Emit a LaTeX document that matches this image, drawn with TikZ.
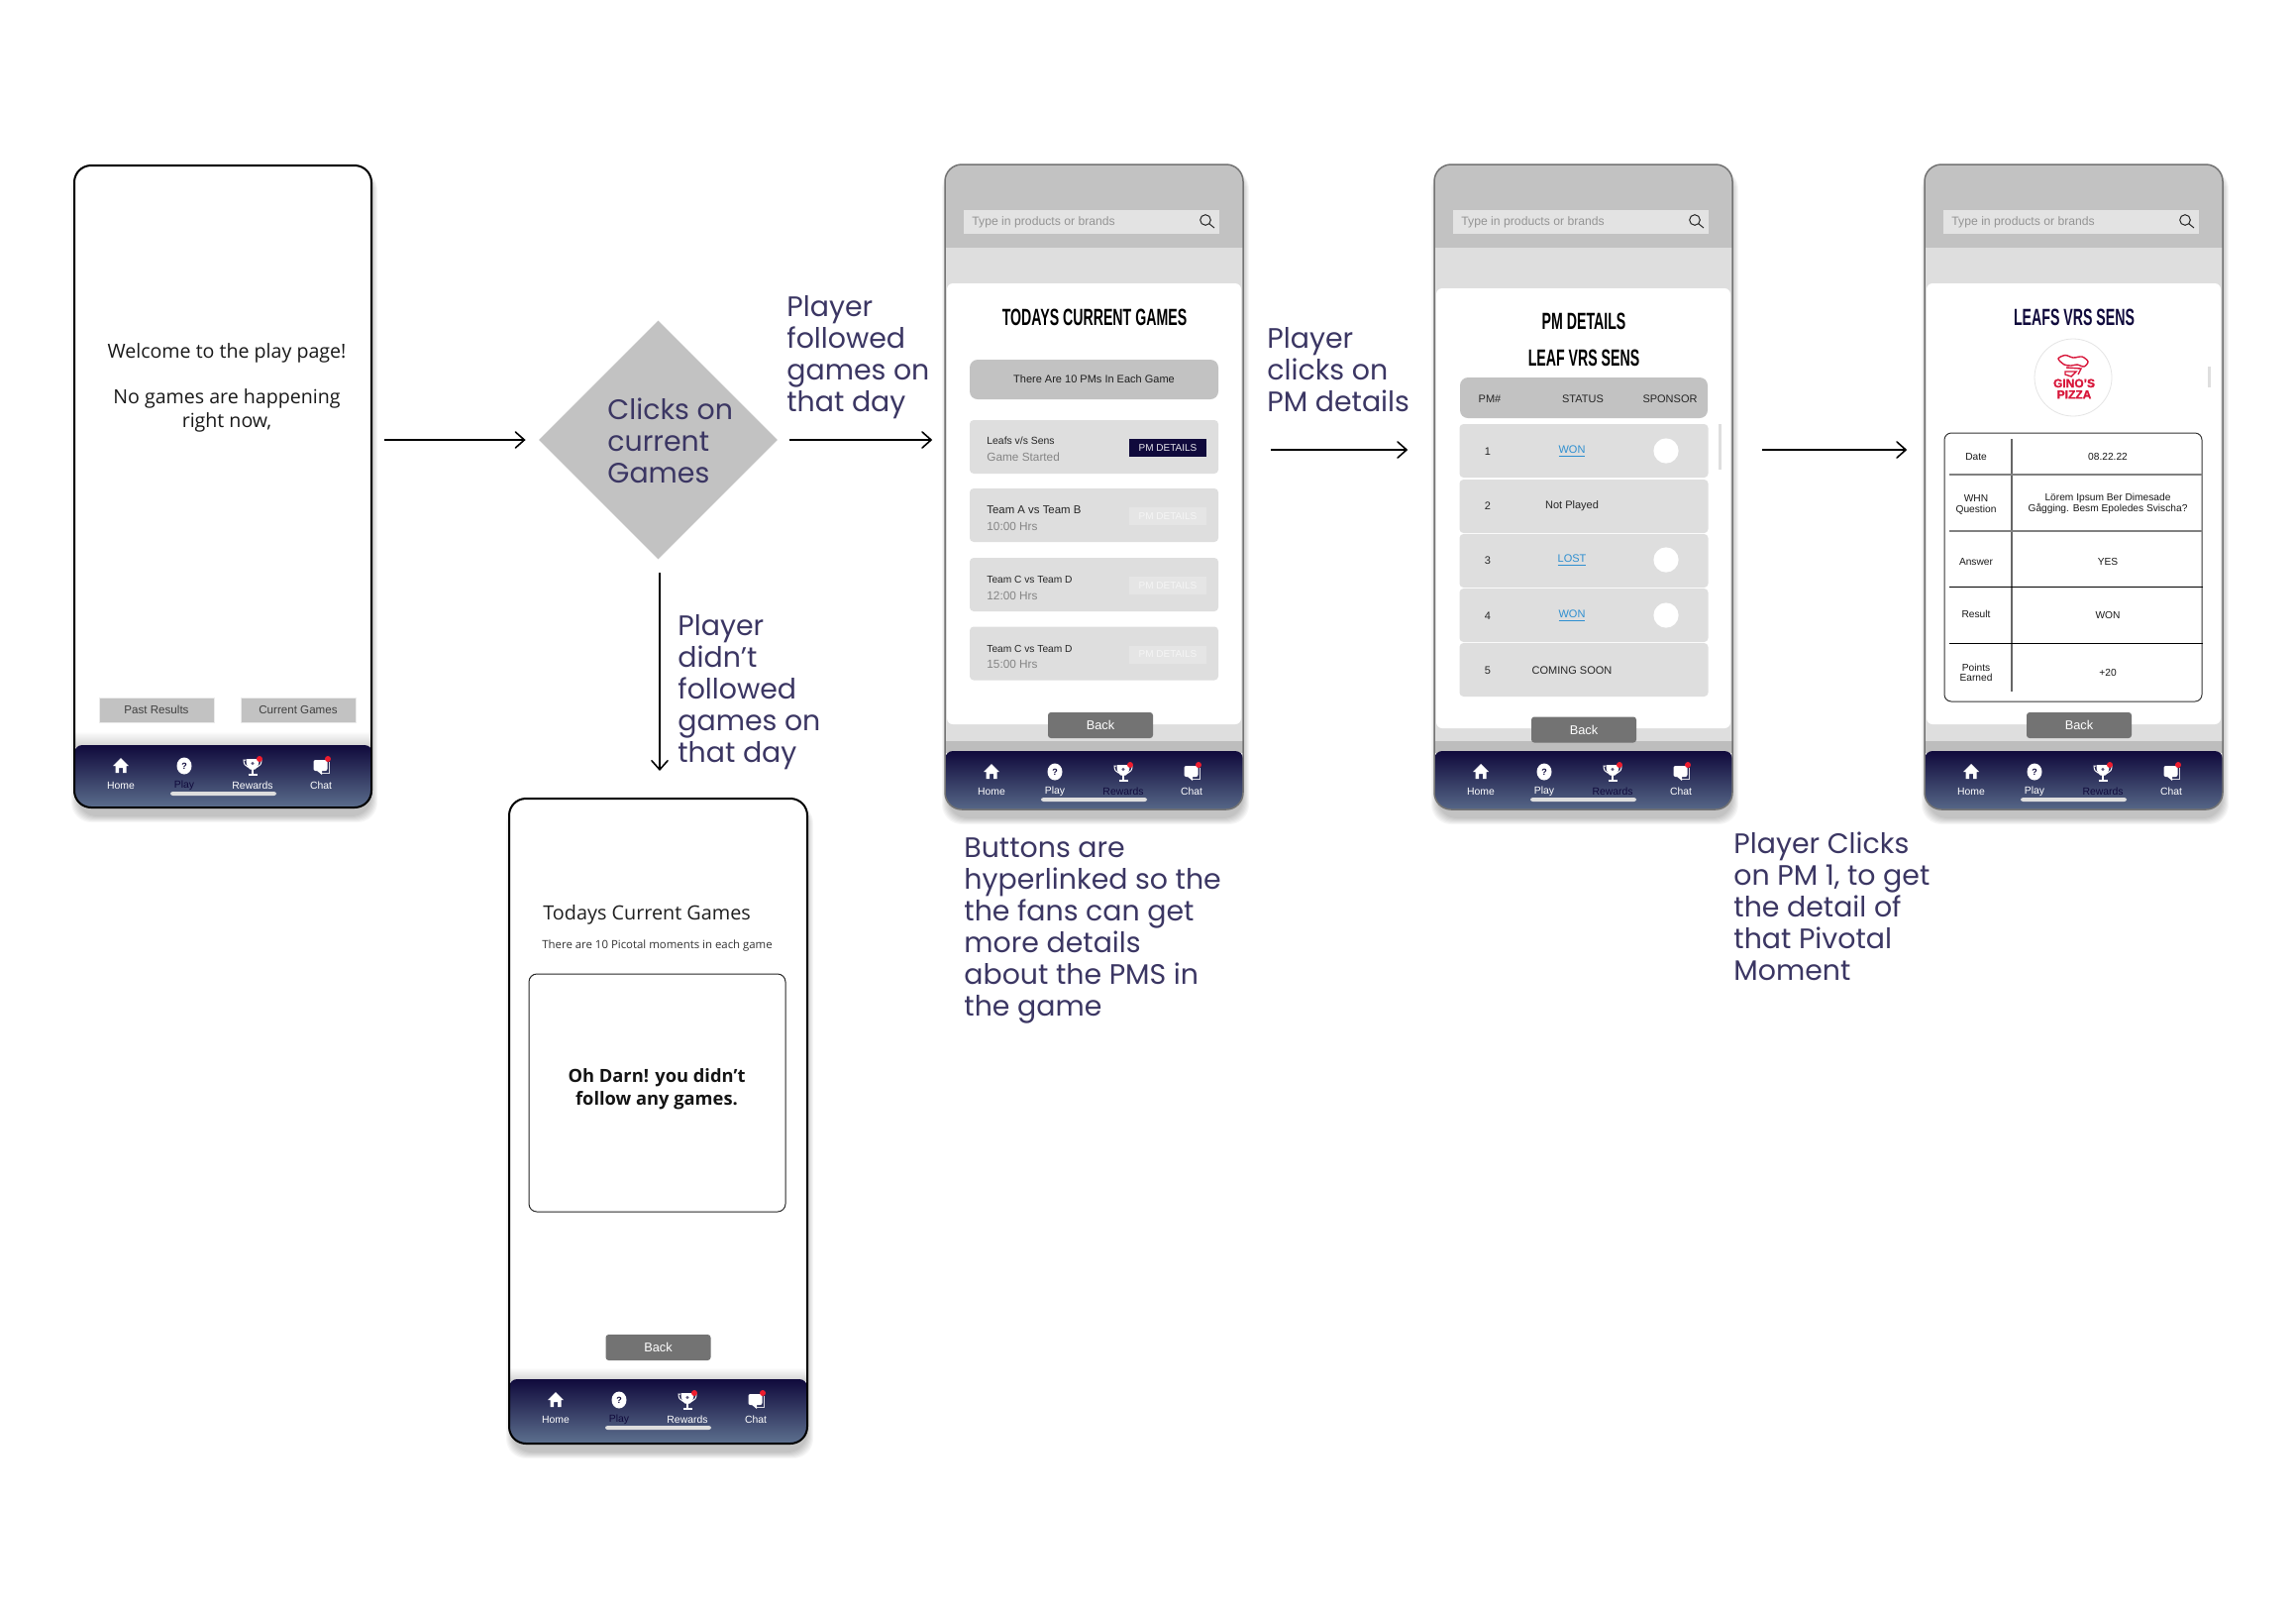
\documentclass[tikz,border=0pt]{standalone}
\usepackage{fontspec}
\setmainfont{Liberation Sans}
\newfontfamily\sayfont{Poppins}
\newfontfamily\interfont{Open Sans}
\newfontfamily\titlefont[FakeStretch=0.6]{Liberation Sans}
\newfontfamily\logofont[FakeBold=1.2]{Liberation Sans}
\usetikzlibrary{positioning,arrows.meta,shapes.geometric,calc}
\definecolor{say}{HTML}{3B3663}
\definecolor{navy}{HTML}{100A3C}
\definecolor{steel}{HTML}{6F88A2}
\definecolor{hdr}{HTML}{C2C2C2}
\definecolor{panel}{HTML}{DEDEDE}
\definecolor{band}{HTML}{BDBDBD}
\definecolor{backbtn}{HTML}{737373}
\definecolor{linkblue}{HTML}{2E8FD0}
\definecolor{alert}{HTML}{EE1C2E}
\definecolor{ginos}{HTML}{D8163A}

% shadow and white base of a phone: x, y, w, h
\newcommand{\phonebase}[4]{
  \foreach \s in {1,...,7}
    \fill[black, opacity=.035, rounded corners=10pt] ({#1+4-\s},{#2+5}) rectangle ({#1+#3-1+\s},{#2+#4+8+\s});
  \fill[white, rounded corners=8.5pt] (#1,#2) rectangle ({#1+#3},{#2+#4});
}

% bottom bar: name, x, bar top, height, Play colour, Rewards colour
\newcommand{\navbar}[6]{
  \begin{scope}[shift={(#2,#3)}]
    \begin{scope}
      \clip[rounded corners=8.5pt] (0,-20) rectangle (301,#4);
      \shade[top color=navy, bottom color=steel, rounded corners=4pt] (0,0) rectangle (301,80);
    \end{scope}
    % home
    \fill[white] (39,21) -- (47,13) -- (55,21) -- (52.5,21) -- (52.5,28) -- (49,28) -- (49,23) -- (45,23) -- (45,28) -- (41.5,28) -- (41.5,21) -- cycle;
    % play
    \fill[white] (111,21) ellipse (7.5 and 8.5);
    \node[navlbl, text=navy, font=\bfseries\fontsize{4.5}{5}\selectfont] (#1ask) at (111,21.5) {?};
    % rewards
    \fill[white] (173.5,14) -- (186.5,14) .. controls (186.5,22) and (184,25) .. (180,25) .. controls (176,25) and (173.5,22) .. (173.5,14) -- cycle;
    \draw[white, line width=.5pt] (173,15) -- (171,15) .. controls (171,19) and (172.5,21) .. (175,22);
    \draw[white, line width=.5pt] (187,15) -- (189,15) .. controls (189,19) and (187.5,21) .. (185,22);
    \draw[white, line width=.7pt] (180,25) -- (180,30) (175.5,30) -- (184.5,30);
    \fill[navy!70] (180,18.5) circle (1.6);
    \fill[alert] (187,14) circle (3);
    % chat
    \draw[white!85!navy, line width=.5pt] (257,17) -- (257,28) -- (250,28);
    \fill[white, rounded corners=1pt] (241.5,15) rectangle (255.5,26);
    \fill[white] (244,25) -- (250,25) -- (250,30) -- cycle;
    \fill[alert] (256,14) circle (3);
    % labels
    \node[navlbl] (#1home) at (47,40.5) {Home};
    \node[navlbl, text=#5] (#1play) at (111,40.5) {Play};
    \node[navlbl, text=#6] (#1rewards) at (180,40.5) {Rewards};
    \node[navlbl] (#1chat) at (249,40.5) {Chat};
    \fill[panel, rounded corners=1.2pt] (97,47) rectangle (204,51);
  \end{scope}
}

% grey screen behind the white card: name, x, card top, card bottom
\newcommand{\screenback}[4]{
  \begin{scope}[shift={(#2,0)}]
    \begin{scope}
      \clip[rounded corners=8.5pt] (0,166) rectangle (301,817);
      \fill[hdr] (0,166) rectangle (301,250);
      \fill[panel] (0,250) rectangle (301,748);
      \fill[band] (0,748) rectangle (301,760);
    \end{scope}
    \fill[white, rounded corners=3pt] (2,#3) rectangle (299,#4);
    \node[searchbox] (#1search) at (148,224) {};
    \node[hint, anchor=west] (#1hint) at (27,224) {Type in products or brands};
    \draw[black!85, line width=.5pt] (263,222) circle (5.3) (267,226) -- (272,230);
  \end{scope}
}

\begin{document}
\begin{tikzpicture}[
  x=0.5pt, y=-0.5pt,
  phone/.style={draw=#1, line width=1pt, rounded corners=8.5pt, minimum width=150.5pt, minimum height=325.5pt, inner sep=0pt},
  step arrow/.style={-{Straight Barb[length=4.5pt, width=8pt, line cap=round]}, line width=.8pt, draw=black},
  saytxt/.style={font=\sayfont\fontsize{14.2}{16}\selectfont, text=say, align=left, anchor=west, inner sep=0pt},
  navlbl/.style={font=\fontsize{5.2}{5.2}\selectfont, text=white, inner sep=0pt},
  hint/.style={font=\fontsize{6.1}{7}\selectfont, text=black!42, inner sep=0pt, yshift=-.4pt},
  searchbox/.style={fill=black!11, minimum width=129pt, minimum height=12pt, inner sep=0pt},
  title/.style={font=\titlefont\bfseries\fontsize{11.8}{12}\selectfont, text=black, inner sep=0pt},
  greybtn/.style={fill=hdr, draw=black!8, minimum width=58pt, minimum height=12.5pt, inner sep=0pt, font=\fontsize{5.8}{7}\selectfont, text=black!75},
  back/.style={fill=backbtn, rounded corners=1.5pt, minimum width=53pt, minimum height=13pt, inner sep=0pt, font=\fontsize{6.4}{7}\selectfont, text=white},
  panelrow/.style={fill=panel, rounded corners=2pt, minimum width=125.5pt, inner sep=0pt},
  pmbtn/.style={minimum width=39pt, minimum height=9pt, inner sep=0pt, font=\fontsize{5}{6}\selectfont},
  rowtxt/.style={font=\fontsize{5.5}{6}\selectfont, text=black!85, inner sep=0pt, yshift=-.5pt},
  subtxt/.style={font=\fontsize{5.9}{6}\selectfont, text=black!48, inner sep=0pt},
  cell/.style={font=\fontsize{5.1}{5.3}\selectfont, text=black!90, align=center, inner sep=0pt, yshift=-.5pt}
]
  \useasboundingbox (0,0) rectangle (2318,1624);
  \fill[white] (0,0) rectangle (2318,1624);

  % welcome screen
  \phonebase{75}{167}{300}{648}
  \node[font=\interfont\fontsize{9.8}{12}\selectfont, text=black!90, align=center, inner sep=0pt] (hello) at (229,356) {Welcome to the play page!};
  \node[font=\interfont\fontsize{9.8}{12}\selectfont, text=black!90, align=center, inner sep=0pt] (nogame) at (229,414) {No games are happening\\right now,};
  \node[greybtn, yshift=0pt] (past) at (158,716.5) {Past Results};
  \node[greybtn] (current) at (301,716.5) {Current Games};
  \shade[top color=white, bottom color=black!17] (76,738) rectangle (374,753);
  \navbar{wa}{75}{752}{63}{navy}{white}
  \node[phone=black, minimum width=150pt, minimum height=324pt] (welcome) at (225,491) {};

  % diamond
  \node[diamond, aspect=1, fill=hdr, minimum width=120.5pt, minimum height=120.5pt, inner sep=0pt] (dia) at (664.5,444) {};
  \node[saytxt] (diatxt) at (613,445) {Clicks on\\current\\Games};

  % oh darn screen
  \phonebase{514}{806}{301}{651}
  \node[font=\interfont\fontsize{9.9}{12}\selectfont, text=black!88, anchor=west, inner sep=0pt] (todays) at (548,923) {Todays Current Games};
  \node[font=\interfont\fontsize{5.7}{7}\selectfont, text=black!80, anchor=west, inner sep=0pt] (tenpm) at (547,955) {There are 10 Picotal moments in each game};
  \node[draw=black!85, line width=.5pt, rounded corners=4pt, minimum width=129.5pt, minimum height=120pt, inner sep=0pt] (darnbox) at (663.5,1103) {};
  \node[font=\interfont\bfseries\fontsize{9.15}{11.6}\selectfont, text=black!92, align=center, inner sep=0pt] (darn) at (663,1099) {Oh Darn! you didn’t\\follow any games.};
  \node[back] (backb) at (664.5,1360) {Back};
  \shade[top color=white, bottom color=black!17] (515,1380) rectangle (814,1393);
  \navbar{wb}{514}{1392}{65}{navy}{white}
  \node[phone=black] (nofollow) at (664.5,1131.5) {};

  % current games screen
  \phonebase{954}{166}{301}{651}
  \screenback{gs}{954}{286}{731}
  \node[title] (gamestitle) at (1105,320) {TODAYS CURRENT GAMES};
  \node[fill=hdr, rounded corners=4pt, minimum width=125.5pt, minimum height=20pt, inner sep=0pt, font=\fontsize{5.5}{6}\selectfont, text=black!88] (tenbar) at (1104.5,383) {There Are 10 PMs In Each Game};
  \node[panelrow, minimum height=27pt] (game1) at (1104.5,451) {};
  \node[rowtxt, anchor=west, font=\fontsize{5.2}{6}\selectfont] (team1) at (996,444) {Leafs v/s Sens};
  \node[subtxt, anchor=west] (when1) at (996,461) {Game Started};
  \node[pmbtn, fill=navy, text=white!90!navy] (pm1) at (1179,452) {PM DETAILS};
  \foreach \n/\y/\vs/\hrs/\fs in {2/520/Team A vs Team B/10:00 Hrs/5.7, 3/590/Team C vs Team D/12:00 Hrs/5.1, 4/659.5/Team C vs Team D/15:00 Hrs/5.1} {
    \node[panelrow, minimum height=27pt] (game\n) at (1104.5,\y) {};
    \node[rowtxt, anchor=west, font=\fontsize{\fs}{6}\selectfont] (team\n) at (996,{\y-6}) {\vs};
    \node[subtxt, anchor=west] (when\n) at (996,{\y+11}) {\hrs};
    \node[pmbtn, fill=black!10, text=black!4] (pm\n) at (1179,{\y+1}) {PM DETAILS};
  }
  \node[back] (backg) at (1111,732) {Back};
  \navbar{gs}{954}{758}{59}{white}{navy}
  \node[phone=black!55, line width=.75pt] (games) at (1104.5,491.5) {};

  % pm details screen
  \phonebase{1448}{166}{301}{651}
  \screenback{pd}{1448}{291}{735}
  \node[title] (pdtitle) at (1599,324) {PM DETAILS};
  \node[title] (pdteam) at (1599,361) {LEAF VRS SENS};
  \node[fill=hdr, rounded corners=4pt, minimum width=125pt, minimum height=20.5pt, inner sep=0pt] (pmhead) at (1599,401.5) {};
  \node[rowtxt] (hpm) at (1504,402) {PM\#};
  \node[rowtxt] (hstatus) at (1598,402) {STATUS};
  \node[rowtxt] (hsponsor) at (1686,402) {SPONSOR};
  \foreach \n/\y in {1/455, 2/511, 3/566, 4/621, 5/676}
    \node[panelrow, minimum height=27pt] (pmrow\n) at (1599,\y) {};
  \foreach \n/\y in {1/455, 2/510, 3/565, 4/621, 5/676}
    \node[rowtxt] (pmnum\n) at (1502,\y) {\n};
  \node[rowtxt, text=linkblue] (st1) at (1587,455) {\underline{WON}};
  \node[rowtxt] (st2) at (1587,510) {Not Played};
  \node[rowtxt, text=linkblue] (st3) at (1587,565) {\underline{LOST}};
  \node[rowtxt, text=linkblue] (st4) at (1587,621) {\underline{WON}};
  \node[rowtxt] (st5) at (1587,676) {COMING SOON};
  \foreach \n/\y in {1/455, 3/565, 4/621}
    \node[circle, fill=white, minimum size=12.6pt, inner sep=0pt] (spot\n) at (1682,\y) {};
  \fill[panel] (1735,428) rectangle (1737.5,474);
  \node[back] (backd) at (1599,736.5) {Back};
  \navbar{pd}{1448}{758}{59}{white}{navy}
  \node[phone=black!55, line width=.75pt] (details) at (1598.5,491.5) {};

  % moment screen
  \phonebase{1943}{166}{301}{651}
  \screenback{mo}{1943}{286}{731}
  \node[title, text=navy] (motitle) at (2094,320) {LEAFS VRS SENS};
  \node[circle, draw=black!10, line width=.4pt, minimum size=39pt, inner sep=0pt] (logo) at (2093,381) {};
  \draw[ginos, line width=.7pt] plot[smooth cycle] coordinates {(2078,362) (2085,358.5) (2093,361) (2102,360) (2108,365) (2104,370) (2097,368) (2091,369) (2084,368)};
  \draw[ginos, line width=.7pt] (2086,371) -- (2101,372) -- (2098,378) (2085,375) -- (2096,375) -- (2091,380) -- (2085,378) -- cycle;
  \node[font=\logofont\bfseries\fontsize{6}{5.7}\selectfont, text=ginos, align=center, inner sep=0pt] (ginotxt) at (2094,392.5) {GINO’S\\PIZZA};
  \fill[panel] (2229,370) rectangle (2231.5,391);
  \node[draw=black!80, line width=.5pt, rounded corners=3.5pt, minimum width=130pt, minimum height=135.5pt, inner sep=0pt] (momtable) at (2093,572.5) {};
  \draw[black!60, line width=.6pt] (2031,443) -- (2031,698);
  \draw[black!50, line width=.6pt] (1968,479) -- (momtable.east |- 0,479);
  \draw[black!50, line width=.6pt] (1968,536) -- (momtable.east |- 0,536);
  \draw[black, line width=.4pt] (1968,592) -- (momtable.east |- 0,592);
  \draw[black, line width=.4pt] (1968,649) -- (momtable.east |- 0,649);
  \foreach \n/\y/\lft in {1/460/Date, 3/566/Answer, 4/619/Result}
    \node[cell] (left\n) at (1995,\y) {\lft};
  \node[cell] (right1) at (2128,460) {08.22.22};
  \node[cell] (left2) at (1995,508.5) {WHN\\Question};
  \node[cell] (right2) at (2128,507.5) {Lörem Ipsum Ber Dimesade\\Gågging. Besm Epoledes Svischa?};
  \node[cell] (right3) at (2128,566) {YES};
  \node[cell] (right4) at (2128,620) {WON};
  \node[cell] (left5) at (1995,678) {Points\\Earned};
  \node[cell] (right5) at (2128,678) {+20};
  \node[back] (backm) at (2099,732) {Back};
  \navbar{mo}{1943}{758}{59}{white}{navy}
  \node[phone=black!55, line width=.75pt] (moment) at (2093.5,491.5) {};

  % captions
  \node[saytxt] (say1) at (794,361) {Player\\followed\\games on\\that day};
  \node[saytxt] (say2) at (684,699) {Player\\didn’t\\followed\\games on\\that day};
  \node[saytxt] (say3) at (973,939.5) {Buttons are\\hyperlinked so the\\the fans can get\\more details\\about the PMS in\\the game};
  \node[saytxt] (say4) at (1279,373) {Player\\clicks on\\PM details};
  \node[saytxt] (say5) at (1750,915) {Player Clicks\\on PM 1, to get\\the detail of\\that Pivotal\\Moment};

  % arrows
  \draw[step arrow, shorten <=6pt, shorten >=6.5pt] (dia.west -| welcome.east) -- (dia.west);
  \draw[step arrow, shorten <=6pt, shorten >=6pt] (dia.east) -- (dia.east -| games.west);
  \draw[step arrow, shorten <=6.5pt, shorten >=13.5pt] ([xshift=.75pt]dia.south) -- ([xshift=.75pt]nofollow.north);
  \draw[step arrow, shorten <=13.5pt, shorten >=13pt] ([yshift=18.75pt]games.east) -- ([yshift=18.75pt]details.west);
  \draw[step arrow, shorten <=14.5pt, shorten >=8.5pt] ([yshift=18.75pt]details.east) -- ([yshift=18.75pt]moment.west);
\end{tikzpicture}
\end{document}
